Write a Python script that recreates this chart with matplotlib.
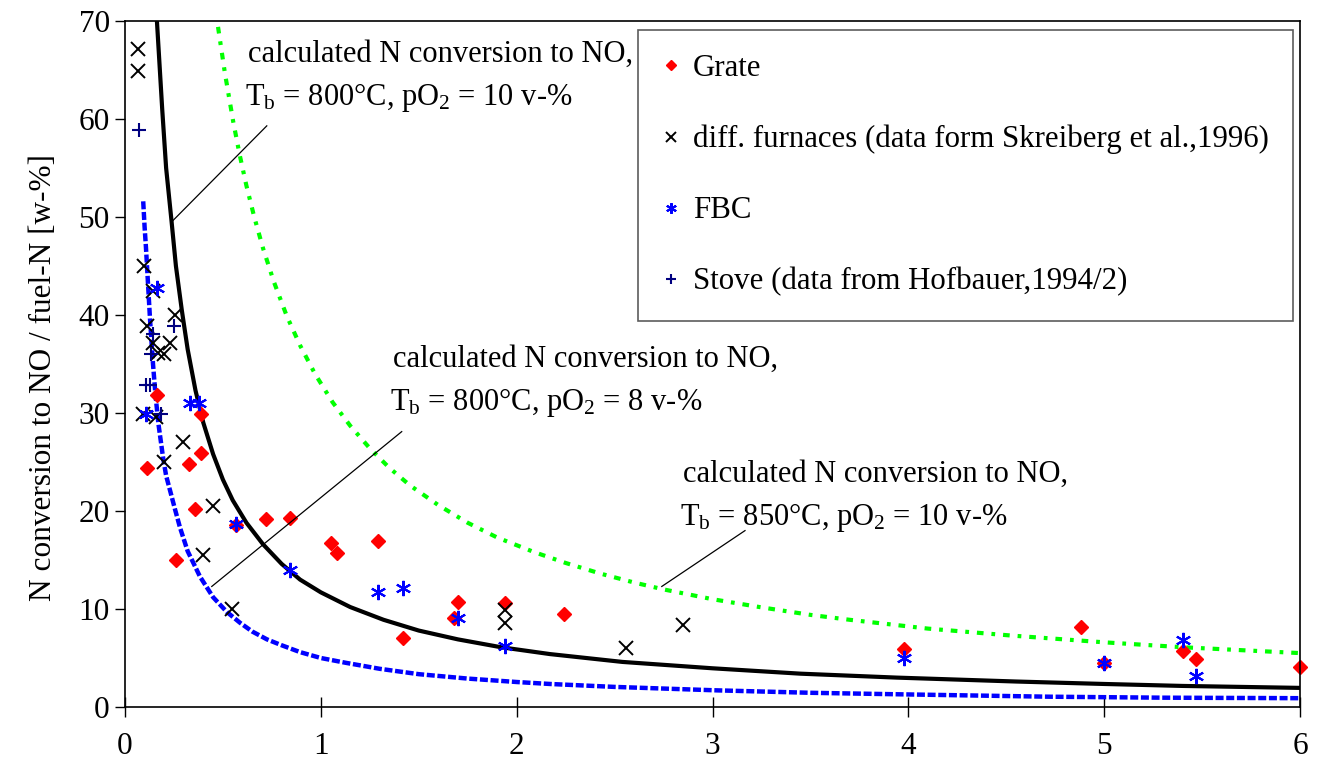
import matplotlib
matplotlib.use("Agg")
import matplotlib.pyplot as plt

plt.rcParams['font.family'] = ['Liberation Serif', 'DejaVu Serif']
plt.rcParams['mathtext.fontset'] = 'custom'
plt.rcParams['mathtext.rm'] = 'Liberation Serif'
plt.rcParams['mathtext.it'] = 'Liberation Serif:italic'

grate_x = [0.11, 0.165, 0.26, 0.327, 0.357, 0.387, 0.39, 0.567, 0.72, 0.84, 1.05, 1.08,
           1.29, 1.42, 1.68, 1.70, 1.94, 2.24, 3.98, 4.88, 5.0, 5.40, 5.47, 6.0]
grate_y = [24.4, 31.8, 15.0, 24.8, 20.2, 25.9, 29.9, 18.6, 19.2, 19.3, 16.7, 15.7,
           16.9, 7.0, 9.1, 10.7, 10.6, 9.5, 5.9, 8.2, 4.5, 5.7, 4.9, 4.1]

furn_x = [0.068, 0.068, 0.097, 0.143, 0.112, 0.254, 0.143, 0.228, 0.168, 0.20, 0.092,
          0.16, 0.296, 0.199, 0.451, 0.40, 0.548, 1.94, 1.94, 2.56, 2.85]
furn_y = [67.1, 64.9, 45.0, 42.5, 38.9, 40.0, 37.1, 37.1, 36.1, 36.0, 29.9,
          29.6, 27.0, 25.0, 20.5, 15.5, 10.0, 9.9, 8.6, 6.0, 8.4]

fbc_x = [0.165, 0.109, 0.33, 0.38, 0.567, 0.84, 1.29, 1.42, 1.70, 1.94, 3.98, 5.0, 5.40, 5.47]
fbc_y = [42.8, 29.9, 31.0, 31.0, 18.7, 14.0, 11.7, 12.1, 9.1, 6.2, 5.0, 4.5, 6.8, 3.2]

stove_x = [0.073, 0.25, 0.143, 0.131, 0.109, 0.126, 0.186]
stove_y = [58.9, 38.9, 38.1, 36.0, 32.9, 32.9, 29.9]

# calculated curves
calc_800_10_x = [0.163, 0.175, 0.19, 0.21, 0.238, 0.26, 0.29, 0.32, 0.36, 0.40, 0.45, 0.50,
                 0.55, 0.62, 0.705, 0.80, 0.894, 1.0, 1.15, 1.32, 1.5, 1.7, 1.92, 2.17,
                 2.54, 3.0, 3.45, 3.94, 4.55, 5.0, 5.4, 6.0]
calc_800_10_y = [70.0, 66.0, 61.0, 55.0, 49.5, 45.0, 40.5, 36.5, 32.3, 29.0, 25.8, 23.2,
                 21.1, 18.8, 16.6, 14.6, 13.0, 11.7, 10.2, 8.9, 7.8, 6.9, 6.1, 5.4,
                 4.6, 3.95, 3.4, 3.0, 2.6, 2.35, 2.15, 1.95]

calc_800_8_x = [0.093, 0.1, 0.107, 0.118, 0.128, 0.143, 0.155, 0.17, 0.194, 0.21, 0.23,
                0.255, 0.281, 0.32, 0.383, 0.45, 0.52, 0.587, 0.65, 0.725, 0.8, 0.894,
                1.0, 1.13, 1.3, 1.5, 1.75, 2.0, 2.17, 2.5, 3.02, 3.5, 3.94, 4.72, 5.3, 6.0]
calc_800_8_y = [51.6, 49.0, 46.9, 43.0, 39.5, 35.0, 32.0, 29.0, 25.5, 23.6, 22.1,
                20.2, 18.3, 15.9, 13.3, 11.2, 9.7, 8.6, 7.7, 6.9, 6.3, 5.6,
                5.0, 4.5, 3.9, 3.35, 2.9, 2.55, 2.35, 2.05, 1.7, 1.45, 1.3, 1.05, 0.95, 0.9]

calc_850_10_x = [0.475, 0.51, 0.552, 0.585, 0.62, 0.66, 0.705, 0.76, 0.826, 0.894, 0.97,
                 1.06, 1.15, 1.25, 1.35, 1.456, 1.6, 1.75, 1.9, 2.09, 2.25, 2.43, 2.6,
                 2.75, 3.0, 3.24, 3.5, 3.7, 4.1, 4.52, 5.0, 5.4, 6.0]
calc_850_10_y = [69.4, 64.7, 59.8, 56.4, 53.2, 50.0, 46.8, 43.4, 39.9, 36.9, 34.0,
                 31.1, 28.7, 26.4, 24.4, 22.6, 20.6, 18.8, 17.3, 15.8, 14.7, 13.6, 12.7,
                 12.0, 11.0, 10.2, 9.4, 8.9, 8.0, 7.3, 6.6, 6.1, 5.5]

labels = ['Grate', 'diff. furnaces (data form Skreiberg et al.,1996)', 'FBC',
          'Stove (data from Hofbauer,1994/2)']

notes = [
    ('calculated N conversion to NO,', r'T$_\mathrm{b}$ = 800°C, pO$_\mathrm{2}$ = 10 v-%'),
    ('calculated N conversion to NO,', r'T$_\mathrm{b}$ = 800°C, pO$_\mathrm{2}$ = 8 v-%'),
    ('calculated N conversion to NO,', r'T$_\mathrm{b}$ = 850°C, pO$_\mathrm{2}$ = 10 v-%'),
]
note_xy = [(0.63, 65.85), (1.37, 34.7), (2.85, 23.0)]
leaders = [((0.238, 49.5), (0.724, 59.3)),
           ((0.443, 12.3), (1.413, 28.1)),
           ((2.741, 12.3), (3.166, 18.0))]

FS = 22
LFS = 22.2

fig = plt.figure(figsize=(13.24, 7.71), dpi=100)
ax = fig.add_axes([125 / 1324, 1 - 707 / 771, 1175 / 1324, 686 / 771])

ax.plot(calc_800_10_x, calc_800_10_y, color='black', lw=3, solid_joinstyle='round')
ax.plot(calc_800_8_x, calc_800_8_y, color='#0000ff', lw=3.2, linestyle=(0, (1.8, 0.6)))
ax.plot(calc_850_10_x, calc_850_10_y, color='#00ff00', lw=3, linestyle=(0, (1.6, 1.9, 0.9, 1.9)))

h1, = ax.plot(grate_x, grate_y, ls='none', marker='D', ms=7, color='#ff0000', clip_on=False)
h2, = ax.plot(furn_x, furn_y, ls='none', marker='x', ms=9.5, mew=1.4, color='black', clip_on=False)
h3, = ax.plot(fbc_x, fbc_y, ls='none', marker=(6, 2, 0), ms=11, mew=1.5, color='#0000ff', clip_on=False)
h4, = ax.plot(stove_x, stove_y, ls='none', marker='+', ms=10, mew=1.5, color='#000080', clip_on=False)

for (p0, p1) in leaders:
    ax.plot([p0[0], p1[0]], [p0[1], p1[1]], color='black', lw=0.9)

for (l1, l2), (x, y) in zip(notes, note_xy):
    ax.text(x, y, l1, fontsize=FS, va='baseline', ha='left')
    ax.text(x - 0.015, y - 4.4, l2, fontsize=FS, va='baseline', ha='left')

ax.set_xlim(0, 6)
ax.set_ylim(0, 70)
ax.set_xticks(range(0, 7))
ax.set_yticks(range(0, 71, 10))
ax.tick_params(axis='x', direction='inout', length=14, width=1, labelsize=22.5, pad=11)
ax.tick_params(axis='y', direction='out', length=7, width=1, labelsize=22.5, pad=4)
for s in ax.spines.values():
    s.set_linewidth(1.2)
    s.set_color('black')

ax.set_ylabel('N conversion to NO / fuel-N [w-%]', fontsize=22.5)
ax.yaxis.set_label_coords(-0.069, 0.48)
ax.yaxis.label.set_va('center')

leg = ax.legend([h1, h2, h3, h4], labels, loc='upper left',
                bbox_to_anchor=((638 - 125) / 1175, (707 - 30) / 686),
                borderaxespad=0, fontsize=LFS, frameon=True, fancybox=False,
                handlelength=0.6, handletextpad=0.4, labelspacing=1.36,
                borderpad=0.78, markerscale=0.7)
leg.get_frame().set_edgecolor('#333333')
leg.get_frame().set_linewidth(1.2)

fig.savefig('out.png', dpi=100)
